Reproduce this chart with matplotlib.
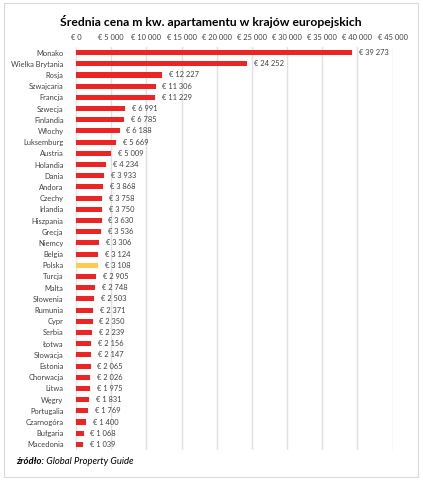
import matplotlib
matplotlib.use("Agg")
import matplotlib.pyplot as plt
from matplotlib.patches import Rectangle
from matplotlib.ticker import FuncFormatter, MultipleLocator

countries = ["Monako", "Wielka Brytania", "Rosja", "Szwajcaria", "Francja", "Szwecja",
             "Finlandia", "Włochy", "Luksemburg", "Austria", "Holandia", "Dania", "Andora",
             "Czechy", "Irlandia", "Hiszpania", "Grecja", "Niemcy", "Belgia", "Polska",
             "Turcja", "Malta", "Słowenia", "Rumunia", "Cypr", "Serbia", "Łotwa", "Słowacja",
             "Estonia", "Chorwacja", "Litwa", "Węgry", "Portugalia", "Czarnogóra", "Bułgaria",
             "Macedonia"]
prices = [39273, 24252, 12227, 11306, 11229, 6991, 6785, 6188, 5669, 5009, 4234, 3933, 3868,
          3758, 3750, 3630, 3536, 3306, 3124, 3108, 2905, 2748, 2503, 2371, 2350, 2239, 2156,
          2147, 2065, 2026, 1975, 1831, 1769, 1400, 1068, 1039]
highlight = "Polska"
title = "Średnia cena m kw. apartamentu w krajów europejskich"
source_bold = "źródło:"
source_rest = " Global Property Guide"

RED = "#EC2424"
YELLOW = "#FFC952"
FONT = ["Lato", "DejaVu Sans"]
plt.rcParams["font.family"] = FONT

def fmt_eur(v):
    s = f"{int(round(v)):,}".replace(",", " ")
    return f"€ {s}"

fig = plt.figure(figsize=(4.23, 4.80), dpi=100)
fig.patch.set_facecolor("white")
fig.patches.append(Rectangle((4/423, 3/480), 414/423, 474/480, transform=fig.transFigure,
                             fill=False, edgecolor="#D9D9D9", linewidth=0.8))

ax = fig.add_axes([76/423, 1 - 450/480, (392.5 - 76)/423, (450 - 47)/480])
y = list(range(len(countries)))
colors = [YELLOW if c == highlight else RED for c in countries]
ax.barh(y, prices, height=0.45, color=colors, zorder=3)
ax.set_ylim(len(countries) - 0.5, -0.5)
ax.set_xlim(0, 45000)
ax.xaxis.set_major_locator(MultipleLocator(5000))
ax.xaxis.set_major_formatter(FuncFormatter(lambda v, p: fmt_eur(v)))
ax.xaxis.tick_top()
ax.tick_params(axis="x", length=0, pad=4, labelsize=5.4, colors="#404040")
ax.set_yticks(y)
ax.set_yticklabels(countries)
ax.tick_params(axis="y", length=0, pad=9, labelsize=5.4, colors="#404040")
ax.grid(axis="x", color="#E0E0E0", linewidth=1.0, zorder=0)
for s in ax.spines.values():
    s.set_visible(False)

for yi, v in zip(y, prices):
    ax.annotate(fmt_eur(v), (v, yi), xytext=(5, 0), textcoords="offset points",
                va="center", ha="left", fontsize=5.4, color="#404040")

fig.text(211/423, 1 - 21/480, title, ha="center", va="center", fontsize=8.7,
         fontweight="bold", color="#000000")
t1 = fig.text(16/423, 1 - 462/480, source_bold, ha="left", va="center", fontsize=6.8,
              fontweight="bold", style="italic", color="#000000")
fig.canvas.draw()
bb = t1.get_window_extent()
fig.text(bb.x1 / fig.bbox.width, 1 - 462/480, source_rest, ha="left", va="center",
         fontsize=6.8, style="italic", color="#000000")

fig.savefig("out.png", dpi=100, facecolor="white")
